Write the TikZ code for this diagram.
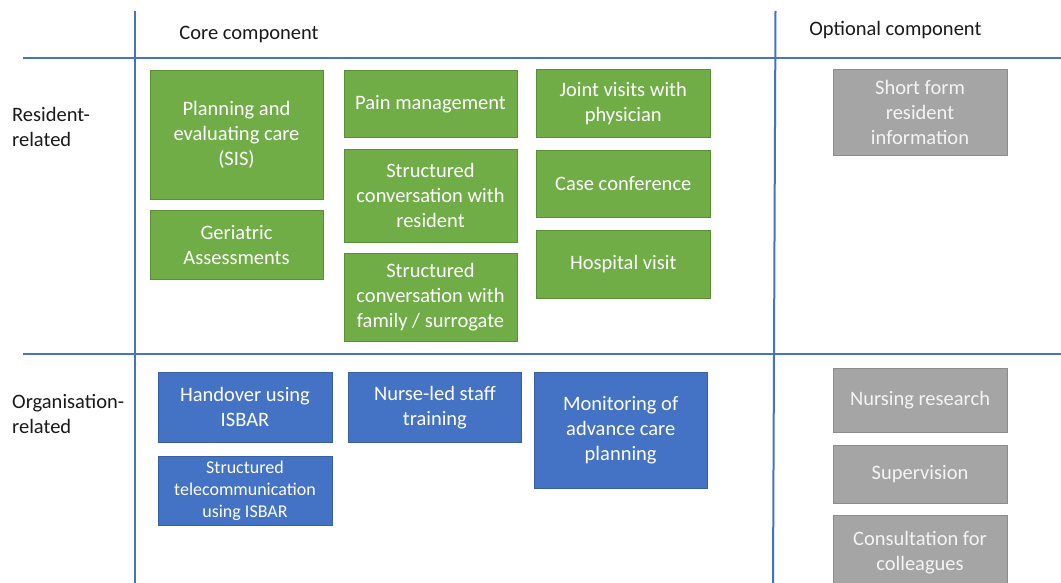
\documentclass[tikz,border=0pt]{standalone}
\usepackage{fontspec}
\setmainfont{Carlito}
\begin{document}
\begin{tikzpicture}[x=1pt,y=-1pt,
  every node/.style={inner sep=0pt, align=center},
  grid/.style={draw=gridblue, line width=2pt},
  rowlabel/.style={anchor=west, align=left, text=labeltext, font=\fontsize{20.5}{25}\selectfont},
  collabel/.style={text=labeltext, font=\fontsize{20.5}{25}\selectfont},
  card/.style={rectangle, line width=0.8pt, font=\fontsize{20.5}{25}\selectfont},
  gbox/.style={card, fill=coregreen, draw=coregreenedge, text=white},
  bbox/.style={card, fill=coreblue, draw=coreblueedge, text=white},
  ybox/.style={card, fill=optgray, draw=optgrayedge, text=opttext},
  small/.style={font=\fontsize{18}{22}\selectfont}
]
\definecolor{gridblue}{HTML}{4472C4}
\definecolor{labeltext}{HTML}{1A1A1A}
\definecolor{coregreen}{HTML}{70AD47}
\definecolor{coregreenedge}{HTML}{5A8F38}
\definecolor{coreblue}{HTML}{4472C4}
\definecolor{coreblueedge}{HTML}{36609F}
\definecolor{optgray}{HTML}{A5A5A5}
\definecolor{optgrayedge}{HTML}{8C8C8C}
\definecolor{opttext}{HTML}{F4F4F4}

\useasboundingbox[fill=white] (0,0) rectangle (1061,583);

% table rules
\draw[grid] (135,11) -- (135,583);
\draw[grid] (775.5,11) -- (773,583);
\draw[grid] (23,58) -- (1061,58);
\draw[grid] (23,354) -- (1061,354);

% headings
\node[collabel] (core) at (249,35) {Core component};
\node[collabel] (opt) at (895.4,30.5) {Optional component};
\node[rowlabel] (res) at (12,127) {Resident-\\related};
\node[rowlabel] (org) at (12,414) {Organisation-\\related};

% resident-related, core
\node[gbox, minimum width=173pt, minimum height=129.5pt] (plan) at (236.5,134.75) {Planning and\\evaluating care\\(SIS)};
\node[gbox, minimum width=173pt, minimum height=68.7pt] (geri) at (236.5,244.6) {Geriatric\\Assessments};
\node[gbox, minimum width=173pt, minimum height=67.6pt] (pain) at (430.5,103.8) {Pain management};
\node[gbox, minimum width=173pt, minimum height=92.6pt] (convres) at (430.5,195.7) {Structured\\conversation with\\resident};
\node[gbox, minimum width=173pt, minimum height=88pt] (convfam) at (430.5,297.5) {Structured\\conversation with\\family / surrogate};
\node[gbox, minimum width=174.5pt, minimum height=68.4pt] (joint) at (623.25,103.6) {Joint visits with\\physician};
\node[gbox, minimum width=174.5pt, minimum height=67.4pt] (case) at (623.25,183.7) {Case conference};
\node[gbox, minimum width=174.5pt, minimum height=67.7pt] (hosp) at (623.25,264.15) {Hospital visit};

% resident-related, optional
\node[ybox, minimum width=174pt, minimum height=85.5pt] (short) at (920,112.25) {Short form\\resident\\information};

% organisation-related, core
\node[bbox, minimum width=174pt, minimum height=69.3pt] (hand) at (245,407.35) {Handover using\\ISBAR};
\node[bbox, small, minimum width=174pt, minimum height=69.3pt] (tele) at (245,490.85) {Structured\\telecommunication\\using ISBAR};
\node[bbox, minimum width=173.4pt, minimum height=69.3pt] (nurse) at (434.9,407.35) {Nurse-led staff\\training};
\node[bbox, minimum width=173.4pt, minimum height=115.2pt] (mon) at (620.7,430.4) {Monitoring of\\advance care\\planning};

% organisation-related, optional
\node[ybox, minimum width=174pt, minimum height=63.3pt] (nres) at (920,400.35) {Nursing research};
\node[ybox, minimum width=174pt, minimum height=58pt] (sup) at (920,474) {Supervision};
\node[ybox, minimum width=174pt, minimum height=73.6pt] (cons) at (920,552.2) {Consultation for\\colleagues};
\end{tikzpicture}
\end{document}
